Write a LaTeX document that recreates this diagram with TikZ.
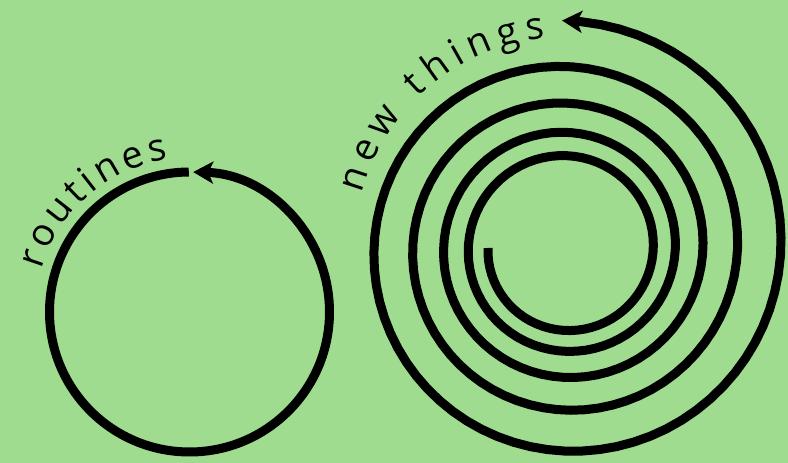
\documentclass[tikz,border=0pt]{standalone}
\usepackage{fontspec}
\setmainfont{Open Sans}
\usetikzlibrary{arrows.meta,decorations.text}
\definecolor{bggreen}{RGB}{159,220,144}
\newcommand\lblfont{\fontsize{38}{40}\selectfont}
\begin{document}
\begin{tikzpicture}[x=1pt,y=1pt,
  ring/.style={line width=9pt, black},
  tipend/.style={-{Stealth[length=20pt,width=22pt,inset=5pt]}},
  lbl/.style={decorate, decoration={text along path, text align={fit to path}, text color=black}}]
\fill[bggreen] (0,0) rectangle (788,463);
\useasboundingbox (0,0) rectangle (788,463);
\coordinate (cc) at (189.5,151);
\coordinate (sc) at (566,215);
% routines circle
\draw[ring,tipend] (cc) ++(90.3:140) arc[start angle=90.3,end angle=448.5,radius=140];
% new things spiral
\draw[ring,tipend,line join=round] plot[domain=180:1891,samples=350]
  ({566+78*exp(0.000625*(\x-180))*cos(\x)},{215+78*exp(0.000625*(\x-180))*sin(\x)});
% labels
\path[lbl, decoration={text={|\lblfont|routines}}] (cc) ++(164:154) arc[start angle=164,end angle=98,radius=154];
\path[lbl, decoration={text={|\lblfont|new things}}] (sc) ++(165:211) arc[start angle=165,end angle=95.5,radius=211];
\end{tikzpicture}
\end{document}
